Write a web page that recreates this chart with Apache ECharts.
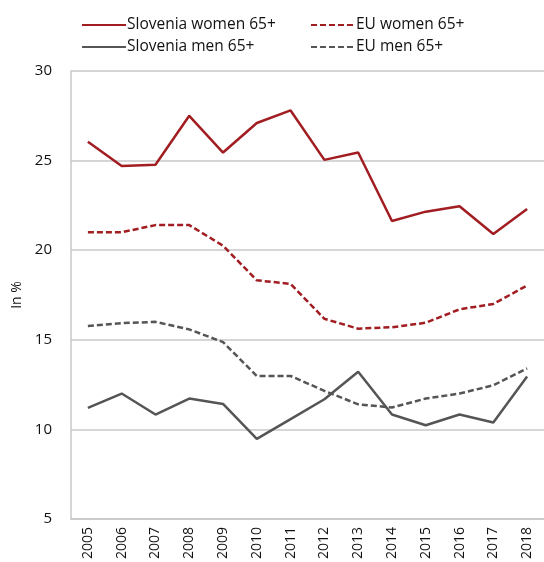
<!doctype html>
<html lang="en">
<head>
<meta charset="UTF-8">
<title>Slovenia vs EU 65+</title>
<style>
    html, body { margin: 0; padding: 0; background: #fff; }
    #main { width: 544px; height: 562px; }
</style>
</head>
<body>
<div id="main"></div>
<script src="https://cdn.jsdelivr.net/npm/echarts@6/dist/echarts.min.js"></script>
<script>
var years = ['2005', '2006', '2007', '2008', '2009', '2010', '2011', '2012', '2013', '2014', '2015', '2016', '2017', '2018'];
var sloWomen = [26.05, 24.7, 24.77, 27.5, 25.45, 27.1, 27.8, 25.04, 25.45, 21.63, 22.15, 22.45, 20.9, 22.3];
var euWomen = [21.0, 21.0, 21.4, 21.4, 20.25, 18.32, 18.12, 16.17, 15.62, 15.7, 15.95, 16.7, 17.0, 18.03];
var sloMen = [11.2, 12.0, 10.83, 11.72, 11.42, 9.47, 10.57, 11.68, 13.22, 10.83, 10.23, 10.83, 10.38, 12.95];
var euMen = [15.77, 15.93, 16.0, 15.58, 14.87, 12.98, 12.98, 12.15, 11.4, 11.22, 11.72, 12.0, 12.46, 13.4];
var yTicks = [5, 10, 15, 20, 25, 30];

var RED = '#a11d22';
var GREY = '#555555';
var FONT = 'Open Sans';

function line(name, data, color, dashed) {
    return {
        name: name,
        type: 'line',
        data: data,
        symbol: 'none',
        animation: false,
        lineStyle: { color: color, width: 2.5, type: dashed ? [6, 3] : 'solid' },
        itemStyle: { color: color }
    };
}

function legendBox(x, names) {
    return {
        orient: 'vertical',
        left: x, top: 12,
        itemWidth: 44, itemHeight: 12, itemGap: 6,
        itemStyle: { opacity: 0 },
        data: names,
        textStyle: { fontSize: 15.5, color: '#111', fontFamily: FONT, padding: [0, 0, 0, -4] }
    };
}

var chart = echarts.init(document.getElementById('main'));
chart.setOption({
    backgroundColor: '#fff',
    textStyle: { fontFamily: FONT },
    legend: [
        legendBox(76, ['Slovenia women 65+', 'Slovenia men 65+']),
        legendBox(305, ['EU women 65+', 'EU men 65+'])
    ],
    grid: { left: 71, right: -8, top: 71, bottom: 42 },
    xAxis: {
        type: 'category',
        data: years,
        boundaryGap: true,
        axisLine: { show: true, lineStyle: { color: '#c8c8c8', width: 1.5 } },
        axisTick: { show: false },
        axisLabel: { rotate: 90, interval: 0, fontSize: 14, color: '#111', margin: 8, fontFamily: FONT }
    },
    yAxis: {
        type: 'value',
        min: yTicks[0],
        max: yTicks[yTicks.length - 1],
        interval: 5,
        name: 'In %',
        nameLocation: 'middle',
        nameGap: 47,
        nameTextStyle: { fontSize: 14, color: '#111', fontFamily: FONT },
        axisLine: { show: true, lineStyle: { color: '#c8c8c8', width: 1.5 } },
        axisTick: { show: false },
        axisLabel: { fontSize: 15, color: '#111', margin: 19, fontFamily: FONT },
        splitLine: { lineStyle: { color: '#c8c8c8', width: 1.5 } }
    },
    series: [
        line('Slovenia women 65+', sloWomen, RED, false),
        line('EU women 65+', euWomen, RED, true),
        line('Slovenia men 65+', sloMen, GREY, false),
        line('EU men 65+', euMen, GREY, true)
    ]
});
</script>
</body>
</html>
